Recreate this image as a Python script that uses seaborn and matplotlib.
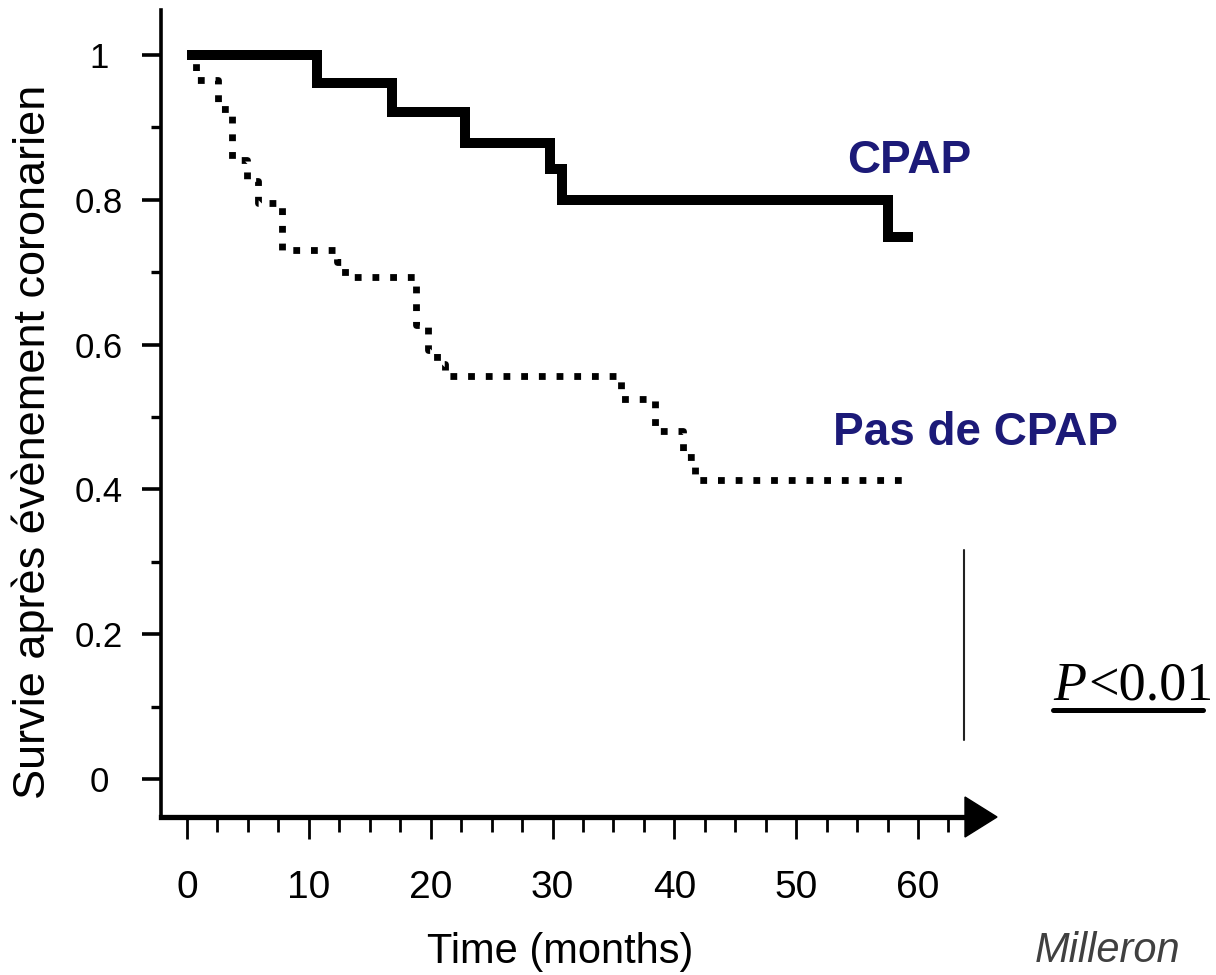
import matplotlib
matplotlib.use("Agg")
import matplotlib.pyplot as plt
import seaborn as sns
import pandas as pd
from matplotlib.lines import Line2D
from matplotlib.patches import Polygon

# ---------------- data ----------------
cpap_months = [0, 10.65, 16.8, 22.8, 29.8, 30.8, 57.55, 59.6]
cpap_survival = [1.0, 0.961, 0.921, 0.878, 0.843, 0.800, 0.748, 0.748]

nocpap_months = [0, 0.7, 2.57, 3.67, 4.9, 5.8, 7.78, 12.3, 13.0, 18.8, 19.8,
                 20.5, 21.2, 35.6, 38.4, 40.7, 41.7, 59.4]
nocpap_survival = [1.0, 0.965, 0.926, 0.855, 0.826, 0.796, 0.731, 0.714, 0.694,
                   0.627, 0.592, 0.573, 0.556, 0.525, 0.48, 0.445, 0.413, 0.413]

x_major = [0, 10, 20, 30, 40, 50, 60]
x_minor = [2.5, 5, 7.5, 12.5, 15, 17.5, 22.5, 25, 27.5, 32.5, 35, 37.5,
           42.5, 45, 47.5, 52.5, 55, 57.5, 62.5]
y_major = [0, 0.2, 0.4, 0.6, 0.8, 1.0]
y_major_labels = ["0", "0.2", "0.4", "0.6", "0.8", "1"]
y_minor = [0.1, 0.3, 0.5, 0.7, 0.9]

label_cpap = "CPAP"
label_nocpap = "Pas de CPAP"
x_title = "Time (months)"
y_title = "Survie après évènement coronarien"
source_text = "Milleron"
navy = "#1c1a78"

# ---------------- style ----------------
sns.set_theme(style="white")
plt.rcParams["font.family"] = ["Liberation Sans", "DejaVu Sans"]

W, H = 1216, 975
fig = plt.figure(figsize=(W / 100, H / 100), dpi=100)
fig.patch.set_facecolor("white")

# axes in pixel geometry
ax_left, ax_right, ax_top, ax_bottom = 161, 997, 10, 817
ax = fig.add_axes([ax_left / W, (H - ax_bottom) / H,
                   (ax_right - ax_left) / W, (ax_bottom - ax_top) / H])
ax.set_facecolor("white")

x0_px, px_per_month = 187, 731 / 60.0
y0_px, px_per_unit = 779, 724.0
xlo = (ax_left - x0_px) / px_per_month
xhi = (ax_right - x0_px) / px_per_month
ylo = -(ax_bottom - y0_px) / px_per_unit
yhi = (y0_px - ax_top) / px_per_unit
ax.set_xlim(xlo, xhi)
ax.set_ylim(ylo, yhi)

df_cpap = pd.DataFrame({"months": cpap_months, "survival": cpap_survival})
df_no = pd.DataFrame({"months": nocpap_months, "survival": nocpap_survival})

sns.lineplot(data=df_cpap, x="months", y="survival", ax=ax, estimator=None,
             sort=False, color="black", linewidth=7.2, drawstyle="steps-post",
             solid_joinstyle="miter", solid_capstyle="butt")
sns.lineplot(data=df_no, x="months", y="survival", ax=ax, estimator=None,
             sort=False, color="black", linewidth=4.9, drawstyle="steps-post",
             linestyle=(0, (1.0, 1.6)), dash_capstyle="butt")

# spines
sns.despine(ax=ax)
ax.spines["left"].set_linewidth(2.6)
ax.spines["left"].set_color("black")
ax.spines["bottom"].set_linewidth(3.8)
ax.spines["bottom"].set_color("black")
arrow_base = (965 - x0_px) / px_per_month
ax.spines["bottom"].set_bounds(xlo, arrow_base)
half_h = 20 / px_per_unit
ax.add_patch(Polygon([[arrow_base, ylo - half_h], [arrow_base, ylo + half_h],
                      [xhi, ylo]], closed=True, facecolor="black",
                     edgecolor="black", clip_on=False, zorder=5))

# ticks
ax.set_xticks(x_major)
ax.set_xticklabels([str(v) for v in x_major])
ax.set_xticks(x_minor, minor=True)
ax.set_yticks(y_major)
ax.set_yticklabels(y_major_labels)
ax.set_yticks(y_minor, minor=True)
ax.tick_params(axis="x", which="major", bottom=True, direction="out", length=16,
               width=2, color="black", pad=22, labelsize=28, labelcolor="black")
ax.tick_params(axis="x", which="minor", bottom=True, direction="out", length=11,
               width=2, color="black")
ax.tick_params(axis="y", which="major", left=True, direction="out", length=14,
               width=2.6, color="black", pad=30.7, labelsize=25, labelcolor="black")
ax.tick_params(axis="y", which="minor", left=True, direction="out", length=7,
               width=2.4, color="black")
for lab in ax.get_yticklabels():
    lab.set_horizontalalignment("center")
ax.grid(False)

# axis titles
ax.set_xlabel(x_title, fontsize=30, color="black", va="baseline", ha="center")
ax.xaxis.set_label_coords((560 - ax_left) / (ax_right - ax_left),
                          (ax_bottom - 963) / (ax_bottom - ax_top))
ax.set_ylabel(y_title, fontsize=32.5, color="black", va="center", ha="center")
ax.yaxis.set_label_coords((33 - ax_left) / (ax_right - ax_left),
                          (ax_bottom - 442) / (ax_bottom - ax_top))

# group labels
fig.text(847 / W, (H - 173) / H, label_cpap, color=navy, fontsize=33,
         fontweight="bold", ha="left", va="baseline")
fig.text(833 / W, (H - 445) / H, label_nocpap, color=navy, fontsize=33,
         fontweight="bold", ha="left", va="baseline")

# p-value annotation
fig.text(1053 / W, (H - 700) / H, "P", family=["Liberation Serif"], style="italic",
         fontsize=39, color="black", ha="left", va="baseline")
fig.text(1088 / W, (H - 700) / H, "<0.01", family=["Liberation Serif"],
         fontsize=39, color="black", ha="left", va="baseline")
fig.add_artist(Line2D([1053 / W, 1203 / W], [(H - 710) / H] * 2,
                      transform=fig.transFigure, color="black", lw=3.6))
fig.add_artist(Line2D([964 / W, 964 / W], [(H - 550) / H, (H - 740) / H],
                      transform=fig.transFigure, color="#222222", lw=1.5))

# source reference (bottom-right corner)
fig.text(1035 / W, (H - 962) / H, source_text, style="italic", fontsize=30,
         color="#404040", ha="left", va="baseline")

fig.savefig("out.png", dpi=100, facecolor="white")
